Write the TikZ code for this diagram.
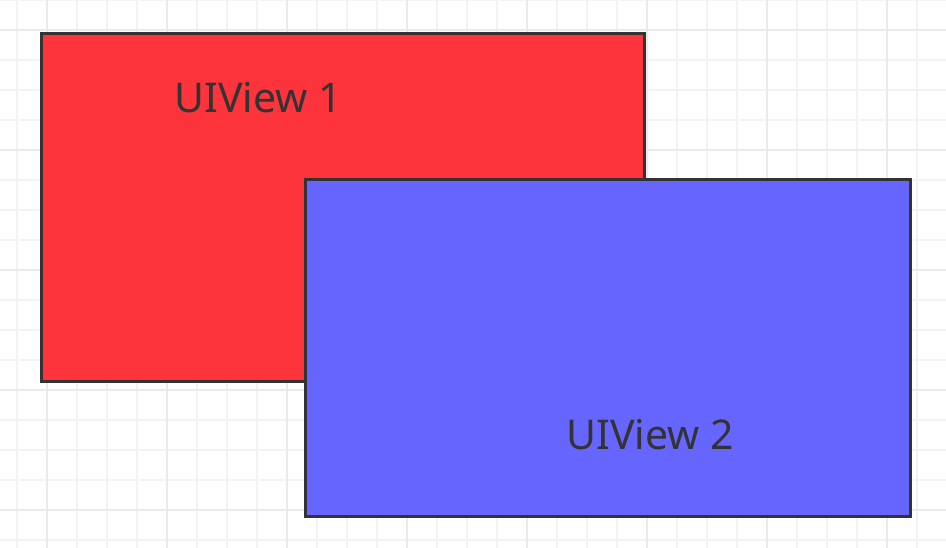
\documentclass[tikz,border=0pt]{standalone}
\usepackage{fontspec}
\setmainfont{Noto Sans}
\definecolor{redfill}{HTML}{FE343C}
\definecolor{bluefill}{HTML}{6666FF}
\definecolor{edge}{HTML}{333333}
\definecolor{gridminor}{HTML}{F3F3F3}
\definecolor{gridmajor}{HTML}{EAEAEA}
\begin{document}
\begin{tikzpicture}[x=1pt,y=-1pt,
  viewbox/.style={draw=edge,line width=3pt},
  viewlabel/.style={text=edge,font=\fontsize{41}{50}\selectfont,inner sep=0pt,anchor=base}]
\useasboundingbox (0,0) rectangle (946,548);
\fill[white] (0,0) rectangle (946,548);
% minor grid
\foreach \x in {17,77,...,946} \draw[gridminor,line width=1.5pt] (\x,0) -- (\x,548);
\foreach \x in {107,227,...,946} \draw[gridminor,line width=1.5pt] (\x,0) -- (\x,548);
\foreach \y in {0,60,...,548} \draw[gridminor,line width=1.5pt] (0,\y) -- (946,\y);
\foreach \y in {90,210,...,548} \draw[gridminor,line width=1.5pt] (0,\y) -- (946,\y);
% major grid
\foreach \x in {47,167,...,946} \draw[gridmajor,line width=2pt] (\x,0) -- (\x,548);
\foreach \y in {30,150,...,548} \draw[gridmajor,line width=2pt] (0,\y) -- (946,\y);
% boxes
\draw[viewbox,fill=redfill] (41,34) rectangle (644,381);
\coordinate (v1lab) at (258,113);
\node[viewlabel] (v1) at (v1lab) {UIView 1};
\draw[viewbox,fill=bluefill] (305,180) rectangle (910,516);
\coordinate (v2lab) at (650,449);
\node[viewlabel] (v2) at (v2lab) {UIView 2};
\end{tikzpicture}
\end{document}
